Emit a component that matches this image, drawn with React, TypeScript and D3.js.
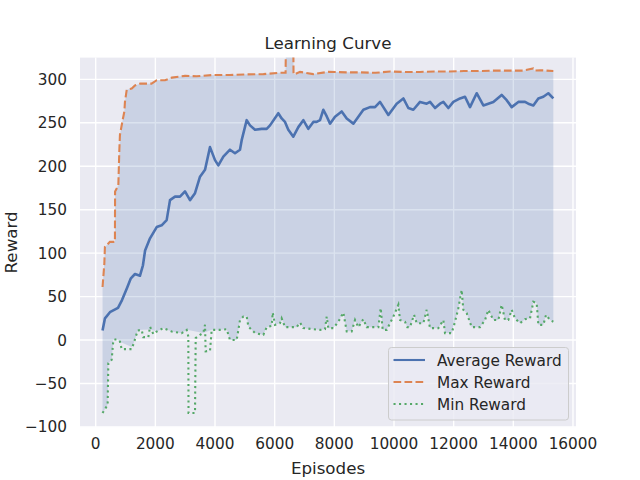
import React from "react";
import * as d3 from "d3";

type P = [number, number];

const avgReward: P[] = [
  [230, 11], [311, 25], [477, 32], [748, 37], [882, 46], [1050, 60], [1179, 71], [1317, 76],
  [1485, 74], [1584, 86], [1656, 103], [1821, 117], [2045, 130], [2211, 132], [2379, 138],
  [2491, 161], [2659, 165], [2826, 165], [2994, 171], [3162, 161], [3329, 169], [3497, 188],
  [3665, 196], [3832, 222], [4000, 207], [4111, 201], [4279, 211], [4502, 219], [4670, 215],
  [4837, 219], [4894, 230], [5062, 253], [5173, 247], [5341, 242], [5564, 243], [5732, 243],
  [5844, 247], [6122, 261], [6234, 255], [6346, 251], [6457, 242], [6625, 234], [6793, 245],
  [6960, 253], [7128, 243], [7296, 251], [7408, 251], [7520, 253], [7631, 265], [7750, 257],
  [7856, 249], [8023, 257], [8247, 263], [8415, 255], [8638, 249], [8805, 257], [8973, 265],
  [9196, 268], [9364, 268], [9531, 274], [9811, 259], [10090, 272], [10314, 278], [10480, 267],
  [10648, 265], [10872, 274], [11096, 272], [11208, 274], [11376, 267], [11543, 272], [11654, 274],
  [11822, 267], [11989, 274], [12213, 278], [12380, 280], [12548, 268], [12771, 284], [12995, 270],
  [13163, 272], [13330, 274], [13609, 282], [13777, 276], [13945, 268], [14168, 274], [14392, 274],
  [14503, 272], [14671, 270], [14838, 278], [15006, 280], [15173, 284], [15341, 278],
];

const maxReward: P[] = [
  [230, 61], [290, 88], [309, 107], [477, 113], [645, 113], [650, 171], [759, 178], [793, 219],
  [813, 236], [892, 251], [961, 263], [981, 274], [1040, 288], [1208, 289.5], [1317, 293],
  [1485, 295], [1870, 295], [2048, 299], [2325, 299], [2552, 302], [2997, 304], [3382, 303.5],
  [3945, 305], [4498, 305], [5062, 305.7], [5625, 306], [6178, 307.5], [6366, 307.5], [6395, 400],
  [6613, 400], [6632, 306], [6682, 306], [6850, 308.6], [7294, 306], [7798, 308.6], [8391, 308],
  [8885, 308], [9379, 307.5], [9873, 309], [10367, 308.5], [10861, 308.5], [11355, 309],
  [11849, 309], [12343, 309.5], [12837, 309.5], [13331, 310], [13825, 310], [14319, 310],
  [14665, 312.5], [14714, 310], [14912, 310.5], [15341, 309.5],
];

const minReward: P[] = [
  [230, -84], [401, -74.5], [424, -26.6], [536, -22.7], [591, 0], [703, 1], [814, -1.7], [870, -10.5],
  [1206, -10.5], [1294, -1.7], [1407, 11], [1541, 11.7], [1597, 3.3], [1765, 3.3], [1821, 15.5],
  [1933, 6.8], [2045, 9.8], [2268, 13.7], [2547, 9.8], [2883, 7.9], [3050, 11.7], [3105, 4],
  [3112, -84], [3329, -84], [3352, 2.2], [3497, 6], [3608, 8], [3665, 17.5], [3686, -13],
  [3832, -12.4], [3888, 11.7], [4056, 11.7], [4167, 11.7], [4391, 12.5], [4502, 0], [4726, 0],
  [4837, 23], [4950, 27], [5062, 27], [5118, 15.5], [5341, 8], [5621, 6], [5732, 14.8], [5900, 16.3],
  [5934, 31.6], [6011, 17.5], [6178, 19.4], [6234, 25], [6346, 14.8], [6737, 14.8], [6850, 20],
  [6960, 13.7], [7296, 12.5], [7520, 11.7], [7688, 12.5], [7744, 27], [7798, 13.7], [7966, 13.7],
  [8134, 21], [8302, 31.6], [8415, 10], [8582, 10], [8693, 23], [8805, 14.8], [8973, 24], [9085, 14.8],
  [9308, 14.8], [9476, 14.8], [9554, 36.7], [9621, 11.7], [9755, 11.7], [9979, 27], [10146, 40.5],
  [10202, 23], [10369, 21], [10447, 14.8], [10537, 14.8], [10671, 29], [10761, 19.4], [10984, 19.4],
  [11096, 34.7], [11208, 13.7], [11486, 13.7], [11654, 23], [11710, 8], [11934, 8], [12045, 21],
  [12157, 36.7], [12269, 57.7], [12324, 34.7], [12436, 31], [12604, 14.8], [12883, 14.8], [13051, 23],
  [13163, 34.7], [13330, 23], [13498, 23], [13609, 40.5], [13721, 23], [13832, 23], [13945, 34.7],
  [14057, 25], [14224, 19.4], [14392, 24], [14560, 25], [14671, 44], [14783, 42.5], [14838, 17.5],
  [15006, 17.5], [15098, 29], [15229, 23], [15341, 21],
];

// lower edge of the shaded band (coarser than the min line at the start)
const bandLowHead: P[] = [
  [230, -84], [401, -74.5], [424, -27], [536, -23], [591, 0], [703, 1], [814, -2], [1206, -8],
  [1294, -2], [1407, 11], [1541, 11.7], [1821, 12], [2045, 9.8], [2268, 13.7], [2547, 9.8],
  [2883, 7.9], [3050, 11.7], [3608, 8], [3888, 11.7], [4167, 11.7],
];

const xTicks = [0, 2000, 4000, 6000, 8000, 10000, 12000, 14000, 16000];
const yTicks = [-100, -50, 0, 50, 100, 150, 200, 250, 300];

const legendItems = [
  { label: "Average Reward", color: "#4C72B0", dash: "none" },
  { label: "Max Reward", color: "#DD8452", dash: "7.7,3.3" },
  { label: "Min Reward", color: "#55A868", dash: "2.1,3.4" },
];

const W = 640, H = 480;
const L = 80, R = 576, T = 57.6, B = 427.2;
const FONT = "'DejaVu Sans', sans-serif";
const TXT = "#262626";

export default function App() {
  const x = d3.scaleLinear().domain([-526, 16101]).range([L, R]);
  const y = d3.scaleLinear().domain([-100.3, 325]).range([B, T]);
  const line = d3.line<P>().x((d) => x(d[0])).y((d) => y(d[1]));

  const bandLow = [...bandLowHead, ...minReward.filter((d) => d[0] >= 4391)];
  const bandPath = line([...maxReward, ...bandLow.slice().reverse()]) + "Z";

  const fmt = (v: number) => (v < 0 ? "\u2212" + Math.abs(v) : String(v));

  return (
    <svg width={W} height={H} style={{ position: "absolute", left: 0, top: 0 }} fontFamily={FONT}>
      <rect width={W} height={H} fill="#ffffff" />
      <defs>
        <clipPath id="ax">
          <rect x={L} y={T} width={R - L} height={B - T} />
        </clipPath>
      </defs>
      <rect x={L} y={T} width={R - L} height={B - T} fill="#EAEAF2" />
      {xTicks.map((t) => (
        <line key={"gx" + t} x1={x(t)} x2={x(t)} y1={T} y2={B} stroke="#ffffff" strokeWidth={1.4} />
      ))}
      {yTicks.map((t) => (
        <line key={"gy" + t} x1={L} x2={R} y1={y(t)} y2={y(t)} stroke="#ffffff" strokeWidth={1.4} />
      ))}
      <g clipPath="url(#ax)">
        <path d={bandPath} fill="#4C72B0" fillOpacity={0.2} stroke="none" />
        <path d={line(avgReward) || ""} fill="none" stroke="#4C72B0" strokeWidth={2.6} strokeLinejoin="round" />
        <path d={line(maxReward) || ""} fill="none" stroke="#DD8452" strokeWidth={2.1} strokeDasharray="7.7,3.3" />
        <path d={line(minReward) || ""} fill="none" stroke="#55A868" strokeWidth={2.1} strokeDasharray="2.1,3.4" />
      </g>
      {xTicks.map((t) => (
        <text key={"tx" + t} x={x(t)} y={449} textAnchor="middle" fontSize={15.3} fill={TXT}>
          {fmt(t)}
        </text>
      ))}
      {yTicks.map((t) => (
        <text key={"ty" + t} x={67} y={y(t)} dy="0.36em" textAnchor="end" fontSize={15.3} fill={TXT}>
          {fmt(t)}
        </text>
      ))}
      <text x={(L + R) / 2} y={474} textAnchor="middle" fontSize={16.7} fill={TXT}>Episodes</text>
      <text transform={`translate(17,${(T + B) / 2}) rotate(-90)`} textAnchor="middle" fontSize={16.7} fill={TXT}>Reward</text>
      <text x={(L + R) / 2} y={49} textAnchor="middle" fontSize={16.7} fill={TXT}>Learning Curve</text>
      <g>
        <rect x={388.5} y={347.5} width={180} height={72.5} rx={3} fill="#EAEAF2" fillOpacity={0.8} stroke="#cccccc" strokeWidth={1} />
        {legendItems.map((it, i) => {
          const cy = 360 + i * 22;
          return (
            <g key={it.label}>
              <line x1={393.5} x2={425} y1={cy} y2={cy} stroke={it.color} strokeWidth={2.1} strokeDasharray={it.dash} />
              <text x={437} y={cy} dy="0.36em" fontSize={15.3} fill={TXT}>{it.label}</text>
            </g>
          );
        })}
      </g>
    </svg>
  );
}
